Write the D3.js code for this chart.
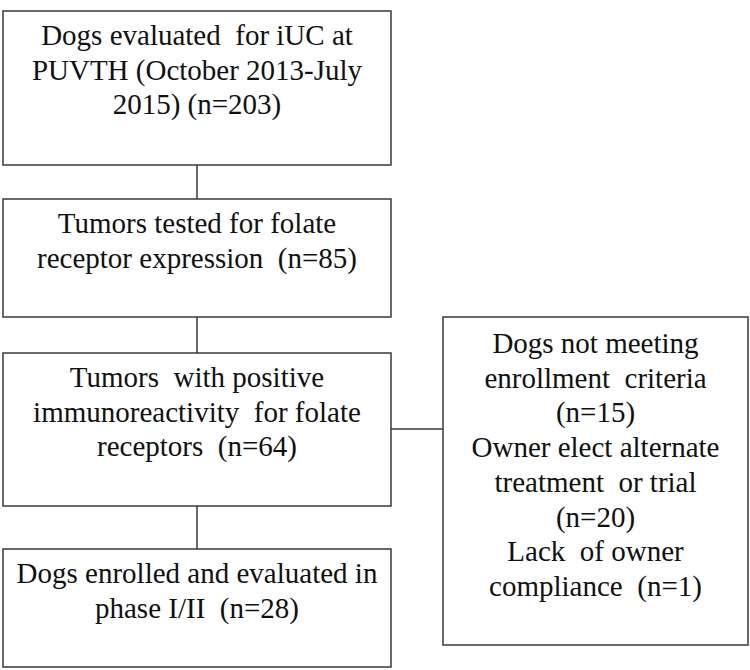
<!DOCTYPE html>
<html>
<head>
<meta charset="utf-8">
<script src="https://cdn.jsdelivr.net/npm/d3@7"></script>
</head>
<body style="margin:0">
<svg id="chart" width="750" height="670"></svg>
<script>
// ---- data ----
const stepIds = ["evaluated", "tested", "positive", "enrolled"];
const stepCounts = [203, 85, 64, 28];
const stepLines = [
  ["Dogs evaluated\u00A0 for iUC at", "PUVTH (October 2013-July", "2015) (n={n})"],
  ["Tumors tested for folate", "receptor expression\u00A0 (n={n})"],
  ["Tumors\u00A0 with positive", "immunoreactivity\u00A0 for folate", "receptors\u00A0 (n={n})"],
  ["Dogs enrolled and evaluated in", "phase I/II\u00A0 (n={n})"]
];
const exclusionCounts = [15, 20, 1];
const exclusionLines = [
  ["Dogs not meeting", "enrollment\u00A0 criteria", "(n={n})"],
  ["Owner elect alternate", "treatment\u00A0 or trial", "(n={n})"],
  ["Lack\u00A0 of owner", "compliance\u00A0 (n={n})"]
];

// ---- layout ----
const svg = d3.select("#chart");
const lineColor = "#3a3a3a";
const lineGap = 34.5;

const boxTops = [11, 199, 353, 549];
const boxBottoms = [165, 317, 506, 667];
const x = d3.scaleLinear().domain([0, 1]).range([3, 391]);
const sideX0 = 443, sideX1 = 748, sideY0 = 317, sideY1 = 645;

// connectors
for (let i = 0; i < stepIds.length - 1; i++) {
  svg.append("line")
    .attr("x1", x(0.5)).attr("x2", x(0.5))
    .attr("y1", boxBottoms[i]).attr("y2", boxTops[i + 1])
    .attr("stroke", lineColor).attr("stroke-width", 1.5);
}
svg.append("line")
  .attr("x1", x(1)).attr("x2", sideX0)
  .attr("y1", 429).attr("y2", 429)
  .attr("stroke", lineColor).attr("stroke-width", 1.5);

// main boxes
const steps = stepIds.map((id, i) => ({
  id,
  lines: stepLines[i].map(l => l.replace("{n}", stepCounts[i])),
  top: boxTops[i], bottom: boxBottoms[i]
}));

svg.selectAll("rect.step").data(steps).join("rect").attr("class", "step")
  .attr("x", x(0)).attr("y", d => d.top)
  .attr("width", x(1) - x(0)).attr("height", d => d.bottom - d.top)
  .attr("fill", "#fff").attr("stroke", lineColor).attr("stroke-width", 1.5);

svg.append("rect")
  .attr("x", sideX0).attr("y", sideY0)
  .attr("width", sideX1 - sideX0).attr("height", sideY1 - sideY0)
  .attr("fill", "#fff").attr("stroke", lineColor).attr("stroke-width", 1.5);

const sideLines = exclusionLines.flatMap((grp, i) => grp.map(l => l.replace("{n}", exclusionCounts[i])));
const allText = steps.flatMap(d => d.lines.map((ln, j) => ({ln, cx: x(0.5), y: d.top + 34 + j * lineGap})))
  .concat(sideLines.map((ln, j) => ({ln, cx: (sideX0 + sideX1) / 2, y: sideY0 + 36 + j * 34.7})));

// centre each line by measuring it (no text-anchor)
svg.selectAll("text.lbl").data(allText).join("text")
  .attr("y", d => d.y)
  .style("font-family", '"Liberation Serif"')
  .style("font-size", "29px")
  .attr("fill", "#111")
  .text(d => d.ln)
  .attr("x", function(d) { return d.cx - this.getComputedTextLength() / 2; });
</script>
</body>
</html>
